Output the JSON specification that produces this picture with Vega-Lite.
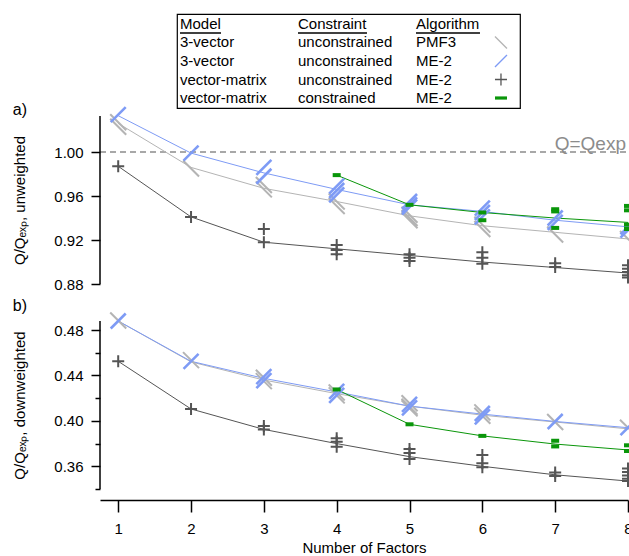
{
  "$schema": "https://vega.github.io/schema/vega-lite/v6.json",
  "background": "white",
  "padding": {"left": 12, "top": 13, "right": 0, "bottom": 0},
  "config": {
    "font": "Liberation Sans",
    "view": {"stroke": null},
    "axis": {"labelFont": "Liberation Sans", "titleFont": "Liberation Sans", "labelColor": "black", "titleColor": "black", "tickColor": "black", "domainColor": "black", "labelFontSize": 15, "titleFontSize": 15, "titleFontWeight": "normal", "tickWidth": 1.5, "domainWidth": 1.5, "grid": false, "labelFlush": false, "labelOverlap": false},
    "title": {"font": "Liberation Sans", "fontSize": 16, "fontWeight": "normal", "color": "black", "anchor": "start", "frame": "bounds", "baseline": "alphabetic"}
  },
  "datasets": {
    "lines": [
      {"panel": "a", "series": "PMF3", "factors": 1, "q": 1.026}, {"panel": "a", "series": "PMF3", "factors": 2, "q": 0.986}, {"panel": "a", "series": "PMF3", "factors": 3, "q": 0.967}, {"panel": "a", "series": "PMF3", "factors": 4, "q": 0.955}, {"panel": "a", "series": "PMF3", "factors": 5, "q": 0.942}, {"panel": "a", "series": "PMF3", "factors": 6, "q": 0.933}, {"panel": "a", "series": "PMF3", "factors": 7, "q": 0.927}, {"panel": "a", "series": "PMF3", "factors": 8, "q": 0.921},
      {"panel": "a", "series": "ME2_3v", "factors": 1, "q": 1.033}, {"panel": "a", "series": "ME2_3v", "factors": 2, "q": 0.999}, {"panel": "a", "series": "ME2_3v", "factors": 3, "q": 0.981}, {"panel": "a", "series": "ME2_3v", "factors": 4, "q": 0.966}, {"panel": "a", "series": "ME2_3v", "factors": 5, "q": 0.952}, {"panel": "a", "series": "ME2_3v", "factors": 6, "q": 0.946}, {"panel": "a", "series": "ME2_3v", "factors": 7, "q": 0.938}, {"panel": "a", "series": "ME2_3v", "factors": 8, "q": 0.932},
      {"panel": "a", "series": "ME2_vm", "factors": 1, "q": 0.987}, {"panel": "a", "series": "ME2_vm", "factors": 2, "q": 0.941}, {"panel": "a", "series": "ME2_vm", "factors": 3, "q": 0.918}, {"panel": "a", "series": "ME2_vm", "factors": 4, "q": 0.912}, {"panel": "a", "series": "ME2_vm", "factors": 5, "q": 0.906}, {"panel": "a", "series": "ME2_vm", "factors": 6, "q": 0.9}, {"panel": "a", "series": "ME2_vm", "factors": 7, "q": 0.895}, {"panel": "a", "series": "ME2_vm", "factors": 8, "q": 0.89},
      {"panel": "a", "series": "ME2_vmc", "factors": 4, "q": 0.979}, {"panel": "a", "series": "ME2_vmc", "factors": 5, "q": 0.952}, {"panel": "a", "series": "ME2_vmc", "factors": 6, "q": 0.945}, {"panel": "a", "series": "ME2_vmc", "factors": 7, "q": 0.94}, {"panel": "a", "series": "ME2_vmc", "factors": 8, "q": 0.936},
      {"panel": "b", "series": "PMF3", "factors": 1, "q": 0.488}, {"panel": "b", "series": "PMF3", "factors": 2, "q": 0.452}, {"panel": "b", "series": "PMF3", "factors": 3, "q": 0.436}, {"panel": "b", "series": "PMF3", "factors": 4, "q": 0.424}, {"panel": "b", "series": "PMF3", "factors": 5, "q": 0.413}, {"panel": "b", "series": "PMF3", "factors": 6, "q": 0.405}, {"panel": "b", "series": "PMF3", "factors": 7, "q": 0.399}, {"panel": "b", "series": "PMF3", "factors": 8, "q": 0.393},
      {"panel": "b", "series": "ME2_3v", "factors": 1, "q": 0.488}, {"panel": "b", "series": "ME2_3v", "factors": 2, "q": 0.4525}, {"panel": "b", "series": "ME2_3v", "factors": 3, "q": 0.4375}, {"panel": "b", "series": "ME2_3v", "factors": 4, "q": 0.4255}, {"panel": "b", "series": "ME2_3v", "factors": 5, "q": 0.413}, {"panel": "b", "series": "ME2_3v", "factors": 6, "q": 0.406}, {"panel": "b", "series": "ME2_3v", "factors": 7, "q": 0.3995}, {"panel": "b", "series": "ME2_3v", "factors": 8, "q": 0.394},
      {"panel": "b", "series": "ME2_vm", "factors": 1, "q": 0.4525}, {"panel": "b", "series": "ME2_vm", "factors": 2, "q": 0.4105}, {"panel": "b", "series": "ME2_vm", "factors": 3, "q": 0.3925}, {"panel": "b", "series": "ME2_vm", "factors": 4, "q": 0.38}, {"panel": "b", "series": "ME2_vm", "factors": 5, "q": 0.3685}, {"panel": "b", "series": "ME2_vm", "factors": 6, "q": 0.36}, {"panel": "b", "series": "ME2_vm", "factors": 7, "q": 0.3525}, {"panel": "b", "series": "ME2_vm", "factors": 8, "q": 0.347},
      {"panel": "b", "series": "ME2_vmc", "factors": 4, "q": 0.4277}, {"panel": "b", "series": "ME2_vmc", "factors": 5, "q": 0.397}, {"panel": "b", "series": "ME2_vmc", "factors": 6, "q": 0.3868}, {"panel": "b", "series": "ME2_vmc", "factors": 7, "q": 0.3796}, {"panel": "b", "series": "ME2_vmc", "factors": 8, "q": 0.3744}
    ],
    "points": [
      {"panel": "a", "series": "PMF3", "factors": 1, "q": 1.027}, {"panel": "a", "series": "PMF3", "factors": 1, "q": 1.023}, {"panel": "a", "series": "PMF3", "factors": 2, "q": 0.985}, {"panel": "a", "series": "PMF3", "factors": 3, "q": 0.97}, {"panel": "a", "series": "PMF3", "factors": 3, "q": 0.966}, {"panel": "a", "series": "PMF3", "factors": 4, "q": 0.955}, {"panel": "a", "series": "PMF3", "factors": 4, "q": 0.951}, {"panel": "a", "series": "PMF3", "factors": 5, "q": 0.943}, {"panel": "a", "series": "PMF3", "factors": 5, "q": 0.94}, {"panel": "a", "series": "PMF3", "factors": 5, "q": 0.938}, {"panel": "a", "series": "PMF3", "factors": 6, "q": 0.934}, {"panel": "a", "series": "PMF3", "factors": 6, "q": 0.93}, {"panel": "a", "series": "PMF3", "factors": 7, "q": 0.925}, {"panel": "a", "series": "PMF3", "factors": 8, "q": 0.921},
      {"panel": "a", "series": "ME2_3v", "factors": 1, "q": 1.034}, {"panel": "a", "series": "ME2_3v", "factors": 2, "q": 0.999}, {"panel": "a", "series": "ME2_3v", "factors": 3, "q": 0.986}, {"panel": "a", "series": "ME2_3v", "factors": 3, "q": 0.978}, {"panel": "a", "series": "ME2_3v", "factors": 4, "q": 0.969}, {"panel": "a", "series": "ME2_3v", "factors": 4, "q": 0.965}, {"panel": "a", "series": "ME2_3v", "factors": 4, "q": 0.961}, {"panel": "a", "series": "ME2_3v", "factors": 5, "q": 0.955}, {"panel": "a", "series": "ME2_3v", "factors": 5, "q": 0.952}, {"panel": "a", "series": "ME2_3v", "factors": 5, "q": 0.95}, {"panel": "a", "series": "ME2_3v", "factors": 6, "q": 0.949}, {"panel": "a", "series": "ME2_3v", "factors": 6, "q": 0.945}, {"panel": "a", "series": "ME2_3v", "factors": 6, "q": 0.941}, {"panel": "a", "series": "ME2_3v", "factors": 7, "q": 0.94}, {"panel": "a", "series": "ME2_3v", "factors": 7, "q": 0.936}, {"panel": "a", "series": "ME2_3v", "factors": 8, "q": 0.932}, {"panel": "a", "series": "ME2_3v", "factors": 8, "q": 0.929},
      {"panel": "a", "series": "ME2_vm", "factors": 1, "q": 0.987}, {"panel": "a", "series": "ME2_vm", "factors": 2, "q": 0.941}, {"panel": "a", "series": "ME2_vm", "factors": 3, "q": 0.93}, {"panel": "a", "series": "ME2_vm", "factors": 3, "q": 0.918}, {"panel": "a", "series": "ME2_vm", "factors": 4, "q": 0.9155}, {"panel": "a", "series": "ME2_vm", "factors": 4, "q": 0.911}, {"panel": "a", "series": "ME2_vm", "factors": 4, "q": 0.907}, {"panel": "a", "series": "ME2_vm", "factors": 5, "q": 0.907}, {"panel": "a", "series": "ME2_vm", "factors": 5, "q": 0.904}, {"panel": "a", "series": "ME2_vm", "factors": 5, "q": 0.901}, {"panel": "a", "series": "ME2_vm", "factors": 6, "q": 0.909}, {"panel": "a", "series": "ME2_vm", "factors": 6, "q": 0.904}, {"panel": "a", "series": "ME2_vm", "factors": 6, "q": 0.8985}, {"panel": "a", "series": "ME2_vm", "factors": 7, "q": 0.899}, {"panel": "a", "series": "ME2_vm", "factors": 7, "q": 0.8955}, {"panel": "a", "series": "ME2_vm", "factors": 8, "q": 0.897}, {"panel": "a", "series": "ME2_vm", "factors": 8, "q": 0.894}, {"panel": "a", "series": "ME2_vm", "factors": 8, "q": 0.891}, {"panel": "a", "series": "ME2_vm", "factors": 8, "q": 0.888}, {"panel": "a", "series": "ME2_vm", "factors": 8, "q": 0.886},
      {"panel": "a", "series": "ME2_vmc", "factors": 4, "q": 0.979}, {"panel": "a", "series": "ME2_vmc", "factors": 5, "q": 0.952}, {"panel": "a", "series": "ME2_vmc", "factors": 6, "q": 0.945}, {"panel": "a", "series": "ME2_vmc", "factors": 6, "q": 0.938}, {"panel": "a", "series": "ME2_vmc", "factors": 7, "q": 0.948}, {"panel": "a", "series": "ME2_vmc", "factors": 7, "q": 0.946}, {"panel": "a", "series": "ME2_vmc", "factors": 7, "q": 0.931}, {"panel": "a", "series": "ME2_vmc", "factors": 8, "q": 0.951}, {"panel": "a", "series": "ME2_vmc", "factors": 8, "q": 0.947}, {"panel": "a", "series": "ME2_vmc", "factors": 8, "q": 0.934}, {"panel": "a", "series": "ME2_vmc", "factors": 8, "q": 0.93},
      {"panel": "b", "series": "PMF3", "factors": 1, "q": 0.4885}, {"panel": "b", "series": "PMF3", "factors": 2, "q": 0.4535}, {"panel": "b", "series": "PMF3", "factors": 3, "q": 0.438}, {"panel": "b", "series": "PMF3", "factors": 3, "q": 0.435}, {"panel": "b", "series": "PMF3", "factors": 4, "q": 0.425}, {"panel": "b", "series": "PMF3", "factors": 4, "q": 0.4225}, {"panel": "b", "series": "PMF3", "factors": 5, "q": 0.4155}, {"panel": "b", "series": "PMF3", "factors": 5, "q": 0.4125}, {"panel": "b", "series": "PMF3", "factors": 5, "q": 0.411}, {"panel": "b", "series": "PMF3", "factors": 6, "q": 0.4075}, {"panel": "b", "series": "PMF3", "factors": 6, "q": 0.4045}, {"panel": "b", "series": "PMF3", "factors": 7, "q": 0.399}, {"panel": "b", "series": "PMF3", "factors": 8, "q": 0.394},
      {"panel": "b", "series": "ME2_3v", "factors": 1, "q": 0.488}, {"panel": "b", "series": "ME2_3v", "factors": 2, "q": 0.4525}, {"panel": "b", "series": "ME2_3v", "factors": 3, "q": 0.439}, {"panel": "b", "series": "ME2_3v", "factors": 3, "q": 0.4355}, {"panel": "b", "series": "ME2_3v", "factors": 4, "q": 0.426}, {"panel": "b", "series": "ME2_3v", "factors": 4, "q": 0.4225}, {"panel": "b", "series": "ME2_3v", "factors": 5, "q": 0.4145}, {"panel": "b", "series": "ME2_3v", "factors": 5, "q": 0.4115}, {"panel": "b", "series": "ME2_3v", "factors": 6, "q": 0.4065}, {"panel": "b", "series": "ME2_3v", "factors": 6, "q": 0.4035}, {"panel": "b", "series": "ME2_3v", "factors": 7, "q": 0.3995}, {"panel": "b", "series": "ME2_3v", "factors": 8, "q": 0.394},
      {"panel": "b", "series": "ME2_vm", "factors": 1, "q": 0.4525}, {"panel": "b", "series": "ME2_vm", "factors": 2, "q": 0.4105}, {"panel": "b", "series": "ME2_vm", "factors": 3, "q": 0.3956}, {"panel": "b", "series": "ME2_vm", "factors": 3, "q": 0.3925}, {"panel": "b", "series": "ME2_vm", "factors": 4, "q": 0.3848}, {"panel": "b", "series": "ME2_vm", "factors": 4, "q": 0.3816}, {"panel": "b", "series": "ME2_vm", "factors": 4, "q": 0.3772}, {"panel": "b", "series": "ME2_vm", "factors": 5, "q": 0.3752}, {"panel": "b", "series": "ME2_vm", "factors": 5, "q": 0.3717}, {"panel": "b", "series": "ME2_vm", "factors": 5, "q": 0.3665}, {"panel": "b", "series": "ME2_vm", "factors": 6, "q": 0.37}, {"panel": "b", "series": "ME2_vm", "factors": 6, "q": 0.3626}, {"panel": "b", "series": "ME2_vm", "factors": 6, "q": 0.3591}, {"panel": "b", "series": "ME2_vm", "factors": 7, "q": 0.3545}, {"panel": "b", "series": "ME2_vm", "factors": 7, "q": 0.3515}, {"panel": "b", "series": "ME2_vm", "factors": 8, "q": 0.358}, {"panel": "b", "series": "ME2_vm", "factors": 8, "q": 0.355}, {"panel": "b", "series": "ME2_vm", "factors": 8, "q": 0.352}, {"panel": "b", "series": "ME2_vm", "factors": 8, "q": 0.349}, {"panel": "b", "series": "ME2_vm", "factors": 8, "q": 0.347},
      {"panel": "b", "series": "ME2_vmc", "factors": 4, "q": 0.4277}, {"panel": "b", "series": "ME2_vmc", "factors": 5, "q": 0.397}, {"panel": "b", "series": "ME2_vmc", "factors": 6, "q": 0.3868}, {"panel": "b", "series": "ME2_vmc", "factors": 7, "q": 0.3825}, {"panel": "b", "series": "ME2_vmc", "factors": 7, "q": 0.3775}, {"panel": "b", "series": "ME2_vmc", "factors": 8, "q": 0.3785}, {"panel": "b", "series": "ME2_vmc", "factors": 8, "q": 0.3735}
    ],
    "legendCells": [
      {"row": 0, "col": "Model", "label": "Model"}, {"row": 0, "col": "Constraint", "label": "Constraint"}, {"row": 0, "col": "Algorithm", "label": "Algorithm"},
      {"row": 1, "col": "Model", "label": "3-vector"}, {"row": 1, "col": "Constraint", "label": "unconstrained"}, {"row": 1, "col": "Algorithm", "label": "PMF3"},
      {"row": 2, "col": "Model", "label": "3-vector"}, {"row": 2, "col": "Constraint", "label": "unconstrained"}, {"row": 2, "col": "Algorithm", "label": "ME-2"},
      {"row": 3, "col": "Model", "label": "vector-matrix"}, {"row": 3, "col": "Constraint", "label": "unconstrained"}, {"row": 3, "col": "Algorithm", "label": "ME-2"},
      {"row": 4, "col": "Model", "label": "vector-matrix"}, {"row": 4, "col": "Constraint", "label": "constrained"}, {"row": 4, "col": "Algorithm", "label": "ME-2"}
    ],
    "legendMarkers": [
      {"row": 1, "series": "PMF3"}, {"row": 2, "series": "ME2_3v"}, {"row": 3, "series": "ME2_vm"}, {"row": 4, "series": "ME2_vmc"}
    ]
  },
  "bounds": "flush",
  "center": true,
  "spacing": 0,
  "vconcat": [
    {
      "width": 343,
      "height": 94,
      "view": {"stroke": "black", "strokeWidth": 1.2},
      "layer": [
        {
          "data": {"name": "legendCells"},
          "mark": {"type": "text", "align": "left", "baseline": "middle", "fontSize": 15, "color": "black"},
          "encoding": {
            "x": {"field": "col", "type": "ordinal", "scale": {"type": "point", "domain": ["Model", "Constraint", "Algorithm"], "padding": 0.4535, "align": 0.028}, "axis": null},
            "y": {"field": "row", "type": "ordinal", "scale": {"type": "point", "domain": [0, 1, 2, 3, 4], "padding": 0.54}, "axis": null},
            "text": {"field": "label"}
          }
        },
        {
          "data": {"name": "legendCells"},
          "transform": [{"filter": "datum.row == 0 && datum.col == 'Model'"}],
          "mark": {"type": "rule", "color": "black", "strokeWidth": 1.5, "yOffset": 9, "y2Offset": 9, "x2Offset": 41},
          "encoding": {"x": {"field": "col", "type": "ordinal"}, "x2": {"field": "col"}, "y": {"field": "row", "type": "ordinal"}}
        },
        {
          "data": {"name": "legendCells"},
          "transform": [{"filter": "datum.row == 0 && datum.col == 'Constraint'"}],
          "mark": {"type": "rule", "color": "black", "strokeWidth": 1.5, "yOffset": 9, "y2Offset": 9, "x2Offset": 69},
          "encoding": {"x": {"field": "col", "type": "ordinal"}, "x2": {"field": "col"}, "y": {"field": "row", "type": "ordinal"}}
        },
        {
          "data": {"name": "legendCells"},
          "transform": [{"filter": "datum.row == 0 && datum.col == 'Algorithm'"}],
          "mark": {"type": "rule", "color": "black", "strokeWidth": 1.5, "yOffset": 9, "y2Offset": 9, "x2Offset": 64},
          "encoding": {"x": {"field": "col", "type": "ordinal"}, "x2": {"field": "col"}, "y": {"field": "row", "type": "ordinal"}}
        },
        {
          "data": {"name": "legendMarkers"},
          "transform": [{"filter": "datum.series != 'ME2_vmc'"}],
          "mark": {"type": "point", "filled": false, "size": 144, "strokeWidth": 1.3, "opacity": 1, "xOffset": 85},
          "encoding": {
            "x": {"datum": "Algorithm", "type": "ordinal"},
            "y": {"field": "row", "type": "ordinal"},
            "shape": {"field": "series", "type": "nominal", "scale": {"domain": ["PMF3", "ME2_3v", "ME2_vm", "ME2_vmc"], "range": ["M-1,-1L1,1", "M-1,1L1,-1", "M-1,0L1,0M0,-1L0,1", "M-1,0L1,0"]}, "legend": null},
            "color": {"field": "series", "type": "nominal", "scale": {"domain": ["PMF3", "ME2_3v", "ME2_vm", "ME2_vmc"], "range": ["#b4b4b4", "#7e9bf5", "#555555", "#0a960a"]}, "legend": null}
          }
        },
        {
          "data": {"name": "legendMarkers"},
          "transform": [{"filter": "datum.series == 'ME2_vmc'"}],
          "mark": {"type": "point", "filled": false, "size": 144, "strokeWidth": 3.2, "opacity": 1, "xOffset": 85},
          "encoding": {
            "x": {"datum": "Algorithm", "type": "ordinal"},
            "y": {"field": "row", "type": "ordinal"},
            "shape": {"field": "series", "type": "nominal", "scale": {"domain": ["PMF3", "ME2_3v", "ME2_vm", "ME2_vmc"], "range": ["M-1,-1L1,1", "M-1,1L1,-1", "M-1,0L1,0M0,-1L0,1", "M-1,0L1,0"]}, "legend": null},
            "color": {"field": "series", "type": "nominal", "scale": {"domain": ["PMF3", "ME2_3v", "ME2_vm", "ME2_vmc"], "range": ["#b4b4b4", "#7e9bf5", "#555555", "#0a960a"]}, "legend": null}
          }
        }
      ]
    },
    {
      "width": 497,
      "height": 213,
      "title": {"text": "a)", "offset": -16.5},
      "layer": [
        {
          "data": {"values": [{}]},
          "mark": {"type": "rule", "color": "#8c8c8c", "strokeDash": [6, 4], "strokeWidth": 1.4},
          "encoding": {"x": {"datum": 0.75, "type": "quantitative", "axis": null}, "x2": {"datum": 8}, "y": {"datum": 1, "type": "quantitative"}}
        },
        {
          "data": {"name": "lines"},
          "transform": [{"filter": "datum.panel == 'a'"}],
          "mark": {"type": "line", "strokeWidth": 1},
          "encoding": {
            "x": {"field": "factors", "type": "quantitative", "scale": {"domain": [0.75, 8], "range": [0, 528], "nice": false, "zero": false}, "axis": null},
            "y": {"field": "q", "type": "quantitative", "scale": {"domain": [0.8464, 1.04], "nice": false, "zero": false},
              "axis": {"values": [0.88, 0.9, 0.92, 0.94, 0.96, 0.98, 1, 1.02], "format": ".2f", "labelExpr": "indexof(['0.88','0.92','0.96','1.00'], datum.label) >= 0 ? datum.label : ''", "tickSize": {"condition": {"test": "indexof(['0.88','0.92','0.96','1.00'], format(datum.value, '.2f')) >= 0", "value": 9}, "value": 5}, "domain": false, "labelPadding": 8, "title": "Q/Qₑₓₚ, unweighted", "titlePadding": 26, "titleY": 92}},
            "color": {"field": "series", "type": "nominal", "scale": {"domain": ["PMF3", "ME2_3v", "ME2_vm", "ME2_vmc"], "range": ["#b4b4b4", "#7e9bf5", "#555555", "#0a960a"]}, "legend": null}
          }
        },
        {
          "data": {"name": "points"},
          "transform": [{"filter": "datum.panel == 'a' && datum.series == 'PMF3'"}],
          "mark": {"type": "point", "shape": "M-1,-1L1,1", "filled": false, "size": 256, "strokeWidth": 2, "color": "#b4b4b4", "opacity": 1},
          "encoding": {"x": {"field": "factors", "type": "quantitative", "axis": null}, "y": {"field": "q", "type": "quantitative"}}
        },
        {
          "data": {"name": "points"},
          "transform": [{"filter": "datum.panel == 'a' && datum.series == 'ME2_3v'"}],
          "mark": {"type": "point", "shape": "M-1,1L1,-1", "filled": false, "size": 225, "strokeWidth": 2.6, "color": "#7e9bf5", "opacity": 1},
          "encoding": {"x": {"field": "factors", "type": "quantitative", "axis": null}, "y": {"field": "q", "type": "quantitative"}}
        },
        {
          "data": {"name": "points"},
          "transform": [{"filter": "datum.panel == 'a' && datum.series == 'ME2_vm'"}],
          "mark": {"type": "point", "shape": "M-1,0L1,0M0,-1L0,1", "filled": false, "size": 144, "strokeWidth": 2, "color": "#555555", "opacity": 1},
          "encoding": {"x": {"field": "factors", "type": "quantitative", "axis": null}, "y": {"field": "q", "type": "quantitative"}}
        },
        {
          "data": {"name": "points"},
          "transform": [{"filter": "datum.panel == 'a' && datum.series == 'ME2_vmc'"}],
          "mark": {"type": "point", "shape": "M-1,0L1,0", "filled": false, "size": 64, "strokeWidth": 4, "color": "#0a960a", "opacity": 1},
          "encoding": {"x": {"field": "factors", "type": "quantitative", "axis": null}, "y": {"field": "q", "type": "quantitative"}}
        },
        {
          "data": {"values": [{}]},
          "mark": {"type": "text", "align": "right", "baseline": "alphabetic", "dx": -2, "dy": -2, "fontSize": 19, "color": "#8c8c8c"},
          "encoding": {"x": {"datum": 8, "type": "quantitative", "axis": null}, "y": {"datum": 1, "type": "quantitative"}, "text": {"value": "Q=Qexp"}}
        },
        {
          "data": {"values": [{}]},
          "mark": {"type": "rule", "color": "black", "strokeWidth": 1.5},
          "encoding": {"x": {"datum": 0.75, "type": "quantitative", "axis": null}, "y": {"datum": 0.88, "type": "quantitative"}, "y2": {"datum": 1.0327}}
        }
      ]
    },
    {
      "width": 497,
      "height": 168,
      "title": {"text": "b)", "offset": -6},
      "resolve": {"axis": {"y": "independent"}},
      "layer": [
        {
          "data": {"values": [{}]},
          "mark": {"type": "rule", "color": "black", "strokeWidth": 1.5},
          "encoding": {
            "x": {"datum": 0.75, "type": "quantitative"},
            "y": {"datum": 0.34, "type": "quantitative", "axis": {"orient": "left", "values": [0.34, 0.38, 0.42, 0.46], "labels": false, "domain": false, "tickSize": 5, "title": null}},
            "y2": {"datum": 0.488}
          }
        },
        {
          "data": {"name": "lines"},
          "transform": [{"filter": "datum.panel == 'b'"}],
          "mark": {"type": "line", "strokeWidth": 1},
          "encoding": {
            "x": {"field": "factors", "type": "quantitative", "scale": {"domain": [0.75, 8], "range": [0, 528], "nice": false, "zero": false},
              "axis": {"values": [1, 2, 3, 4, 5, 6, 7, 8], "format": "d", "tickSize": 12, "labelPadding": 9, "offset": 11, "title": "Number of Factors", "titlePadding": 4}},
            "y": {"field": "q", "type": "quantitative", "scale": {"domain": [0.34, 0.488], "nice": false, "zero": false},
              "axis": {"orient": "left", "values": [0.36, 0.4, 0.44, 0.48], "format": ".2f", "tickSize": 9, "domain": false, "labelPadding": 8, "title": "Q/Qₑₓₚ, downweighted", "titlePadding": 26}},
            "color": {"field": "series", "type": "nominal", "scale": {"domain": ["PMF3", "ME2_3v", "ME2_vm", "ME2_vmc"], "range": ["#b4b4b4", "#7e9bf5", "#555555", "#0a960a"]}, "legend": null}
          }
        },
        {
          "data": {"name": "points"},
          "transform": [{"filter": "datum.panel == 'b' && datum.series == 'PMF3'"}],
          "mark": {"type": "point", "shape": "M-1,-1L1,1", "filled": false, "size": 256, "strokeWidth": 2, "color": "#b4b4b4", "opacity": 1},
          "encoding": {"x": {"field": "factors", "type": "quantitative"}, "y": {"field": "q", "type": "quantitative", "axis": null}}
        },
        {
          "data": {"name": "points"},
          "transform": [{"filter": "datum.panel == 'b' && datum.series == 'ME2_3v'"}],
          "mark": {"type": "point", "shape": "M-1,1L1,-1", "filled": false, "size": 225, "strokeWidth": 2.6, "color": "#7e9bf5", "opacity": 1},
          "encoding": {"x": {"field": "factors", "type": "quantitative"}, "y": {"field": "q", "type": "quantitative", "axis": null}}
        },
        {
          "data": {"name": "points"},
          "transform": [{"filter": "datum.panel == 'b' && datum.series == 'ME2_vm'"}],
          "mark": {"type": "point", "shape": "M-1,0L1,0M0,-1L0,1", "filled": false, "size": 144, "strokeWidth": 2, "color": "#555555", "opacity": 1},
          "encoding": {"x": {"field": "factors", "type": "quantitative"}, "y": {"field": "q", "type": "quantitative", "axis": null}}
        },
        {
          "data": {"name": "points"},
          "transform": [{"filter": "datum.panel == 'b' && datum.series == 'ME2_vmc'"}],
          "mark": {"type": "point", "shape": "M-1,0L1,0", "filled": false, "size": 64, "strokeWidth": 4, "color": "#0a960a", "opacity": 1},
          "encoding": {"x": {"field": "factors", "type": "quantitative"}, "y": {"field": "q", "type": "quantitative", "axis": null}}
        }
      ]
    }
  ]
}
